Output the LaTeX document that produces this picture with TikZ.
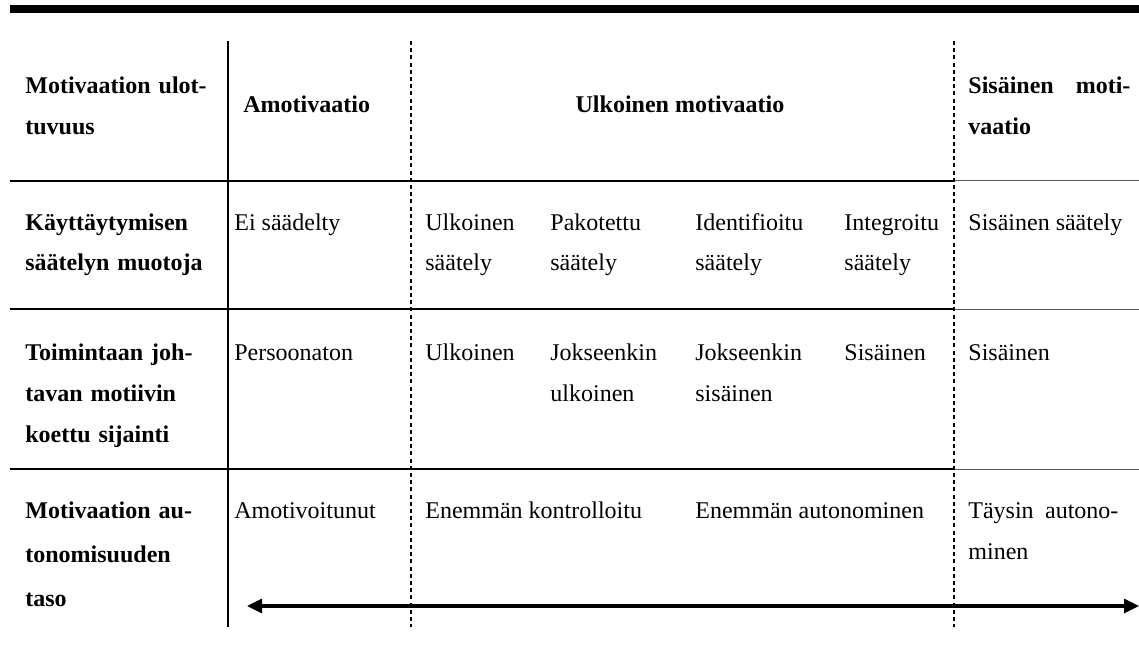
\documentclass[tikz,border=0pt]{standalone}
\usepackage{fontspec}
\setmainfont{Liberation Serif}
\usetikzlibrary{arrows.meta}

\begin{document}
\begin{tikzpicture}[
  x=0.5pt, y=-0.5pt,
  cell/.style={anchor=base west,inner sep=0pt,align=left,font=\fontsize{12}{20.5}\selectfont},
  head/.style={cell,font=\fontsize{12}{20.5}\selectfont\bfseries},
  rule/.style={line width=1pt},
  thinrule/.style={line width=0.5pt,black!65},
  divider/.style={line width=0.65pt,dash pattern=on 2pt off 1.6pt},
  autoarrow/.style={line width=1.6pt,{Triangle[length=7.5pt,width=7pt]}-{Triangle[length=7.5pt,width=7pt]}}
]
\useasboundingbox (0,0) rectangle (1139,663);

% table rules
\draw[line width=4pt] (10,9) -- (1139,9);
\foreach \y in {181,309,469} {
  \draw[rule] (10,\y) -- (954,\y);
  \draw[thinrule] (954,\y) -- (1139,\y);
}
\draw[line width=0.75pt] (228,41) -- (228,627);
\draw[divider] (411,41) -- (411,627);
\draw[divider] (954,41) -- (954,627);

% header row
\node[head,text width=100pt] (hdim) at (25,94) {Motivaation ulot-\\tuvuus};
\node[head] (hamo) at (243,113) {Amotivaatio};
\node[head,anchor=base] (hext) at (680,113) {Ulkoinen motivaatio};
\node[head,text width=81pt] (hint) at (968,94) {Sisäinen\hfill moti-\\vaatio};

% regulation
\node[head,text width=100pt] (rreg) at (25,230) {Käyttäytymisen\\säätelyn muotoja};
\node[cell] (reg0) at (234,230) {Ei säädelty};
\node[cell,text width=60pt] (reg1) at (425,230) {Ulkoinen\\säätely};
\node[cell,text width=60pt] (reg2) at (550,230) {Pakotettu\\säätely};
\node[cell,text width=60pt] (reg3) at (695,230) {Identifioitu\\säätely};
\node[cell,text width=60pt] (reg4) at (844,230) {Integroitu\\säätely};
\node[cell] (reg5) at (968,230) {Sisäinen säätely};

% locus
\node[head,text width=100pt] (rloc) at (25,360) {Toimintaan joh-\\tavan motiivin\\koettu sijainti};
\node[cell] (loc0) at (234,360) {Persoonaton};
\node[cell] (loc1) at (425,360) {Ulkoinen};
\node[cell,text width=60pt] (loc2) at (550,360) {Jokseenkin\\ulkoinen};
\node[cell,text width=60pt] (loc3) at (695,360) {Jokseenkin\\sisäinen};
\node[cell] (loc4) at (844,360) {Sisäinen};
\node[cell] (loc5) at (968,360) {Sisäinen};

% autonomy
\node[head,text width=100pt,font=\fontsize{12}{22}\selectfont\bfseries] (raut) at (25,518) {Motivaation au-\\tonomisuuden\\taso};
\node[cell] (aut0) at (234,518) {Amotivoitunut};
\node[cell] (aut1) at (425,518) {Enemmän kontrolloitu};
\node[cell] (aut2) at (695,518) {Enemmän autonominen};
\node[cell,text width=75pt] (aut3) at (968,518) {Täysin\hfill autono-\\minen};

\coordinate (lo) at (247,606);
\coordinate (hi) at (1139,606);
\draw[autoarrow] (lo) -- (hi);
\end{tikzpicture}
\end{document}
